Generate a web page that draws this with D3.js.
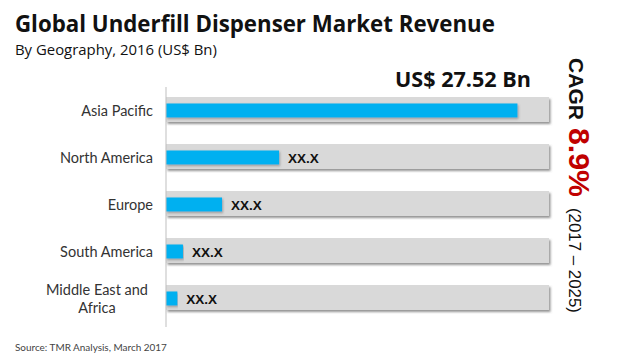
<!DOCTYPE html>
<html>
<head>
<meta charset="utf-8">
<script src="https://cdn.jsdelivr.net/npm/d3@7"></script>
<style>
  body { margin: 0; background: #fff; }
  svg { display: block; }
</style>
</head>
<body>
<svg id="chart" width="620" height="362"></svg>
<script>
// data (total 27.52 split by bar lengths)
const regions = ["Asia Pacific", "North America", "Europe", "South America", "Middle East and Africa"];
const regionLines = [["Asia Pacific"], ["North America"], ["Europe"], ["South America"], ["Middle East and", "Africa"]];
const revenue = [17.62, 5.67, 2.81, 0.85, 0.57];
const barLabels = ["", "XX.X", "XX.X", "XX.X", "XX.X"];
const totalLabel = "US$ 27.52 Bn";
const cagrLabel = "CAGR";
const cagrValue = "8.9%";
const cagrPeriod = "(2017 – 2025)";

const svg = d3.select("#chart");

// shrink/grow a text so it spans a given width
function fitwidth(sel, w) {
  const node = sel.node();
  const fs = parseFloat(sel.attr("font-size"));
  const len = node.getComputedTextLength();
  if (len > 0) sel.attr("font-size", (fs * w / len).toFixed(2));
  return sel;
}

const defs = svg.append("defs");
const sh = defs.append("filter").attr("id", "shadow")
  .attr("x", "-5%").attr("y", "-30%").attr("width", "110%").attr("height", "170%");
sh.append("feDropShadow").attr("dx", 1.5).attr("dy", 2).attr("stdDeviation", 1)
  .attr("flood-color", "#666").attr("flood-opacity", 0.7);
const sh2 = defs.append("filter").attr("id", "shadow2")
  .attr("x", "-5%").attr("y", "-30%").attr("width", "110%").attr("height", "170%");
sh2.append("feDropShadow").attr("dx", 1).attr("dy", 1.5).attr("stdDeviation", 0.8)
  .attr("flood-color", "#555").attr("flood-opacity", 0.45);

const x = d3.scaleLinear().domain([0, 19.2]).range([166, 549]);
const y = d3.scaleBand().domain(regions).range([87, 322]);

// titles
fitwidth(svg.append("text").attr("x", 15).attr("y", 32)
  .attr("font-family", "'Open Sans', sans-serif").attr("font-weight", 700)
  .attr("font-size", 24).attr("fill", "#111")
  .text("Global Underfill Dispenser Market Revenue"), 480);

fitwidth(svg.append("text").attr("x", 15).attr("y", 55)
  .attr("font-family", "'Open Sans', sans-serif")
  .attr("font-size", 15).attr("fill", "#111")
  .text("By Geography, 2016 (US$ Bn)"), 202);

fitwidth(svg.append("text").attr("x", 395).attr("y", 87)
  .attr("font-family", "'Open Sans', sans-serif").attr("font-weight", 700)
  .attr("font-size", 22).attr("fill", "#111")
  .text(totalLabel), 136);

// background bars
svg.append("g").selectAll("rect").data(regions).join("rect")
  .attr("x", x(0))
  .attr("y", d => y(d) + 10)
  .attr("width", x.range()[1] - x(0))
  .attr("height", 25)
  .attr("fill", "#d9d9d9")
  .attr("filter", "url(#shadow)");

// value bars
svg.append("g").selectAll("rect").data(revenue).join("rect")
  .attr("x", x(0))
  .attr("y", (d, i) => y(regions[i]) + y.bandwidth() / 2 - 7)
  .attr("width", d => x(d) - x(0))
  .attr("height", 14)
  .attr("fill", "#00b0f0")
  .attr("filter", "url(#shadow2)");

// bar value labels
svg.append("g").selectAll("text").data(revenue).join("text")
  .attr("x", d => x(d) + 9)
  .attr("y", (d, i) => y(regions[i]) + y.bandwidth() / 2 + 5)
  .attr("font-family", "'Liberation Sans', Arial, sans-serif")
  .attr("font-weight", 700).attr("font-size", 13.5).attr("fill", "#111")
  .text((d, i) => barLabels[i]);

// axis line
svg.append("g").attr("transform", `translate(${x(0)},0)`)
  .call(d3.axisLeft(y).tickSize(0).tickSizeOuter(0).tickFormat(""))
  .call(g => g.select(".domain").attr("stroke", "#bfbfbf").attr("d", "M0,87V327"));

// category labels
const lab = svg.append("g").selectAll("text").data(regions).join("text")
  .attr("font-family", "Lato, 'DejaVu Sans', sans-serif")
  .attr("font-size", 14.5).attr("fill", "#333")
  .attr("text-anchor", (d, i) => regionLines[i].length > 1 ? "middle" : "end")
  .attr("x", (d, i) => regionLines[i].length > 1 ? 97 : 153)
  .attr("y", d => y(d) + y.bandwidth() / 2 + 5);
lab.each(function(d, i) {
  const lines = regionLines[i];
  const t = d3.select(this);
  lines.forEach((s, k) => {
    t.append("tspan").attr("x", t.attr("x"))
      .attr("dy", k === 0 ? -(lines.length - 1) * 9 : 18)
      .text(s);
  });
});

// CAGR column, rotated to read downwards
function vtext(str, start, len, size, color, weight) {
  const t = svg.append("text")
    .attr("transform", `translate(569,${start}) rotate(90)`)
    .attr("font-family", "'Liberation Sans', Arial, sans-serif")
    .attr("font-size", size).attr("font-weight", weight).attr("fill", color)
    .text(str);
  return fitwidth(t, len);
}
vtext(cagrLabel, 58, 62, 22, "#111", 700);
vtext(cagrValue, 128, 69, 30, "#c00000", 700);
vtext(cagrPeriod, 208, 105, 16, "#111", 400);

// source
fitwidth(svg.append("text").attr("x", 15).attr("y", 351)
  .attr("font-family", "Lato, 'DejaVu Sans', sans-serif")
  .attr("font-size", 10).attr("fill", "#444")
  .text("Source: TMR Analysis, March 2017"), 152);
</script>
</body>
</html>
